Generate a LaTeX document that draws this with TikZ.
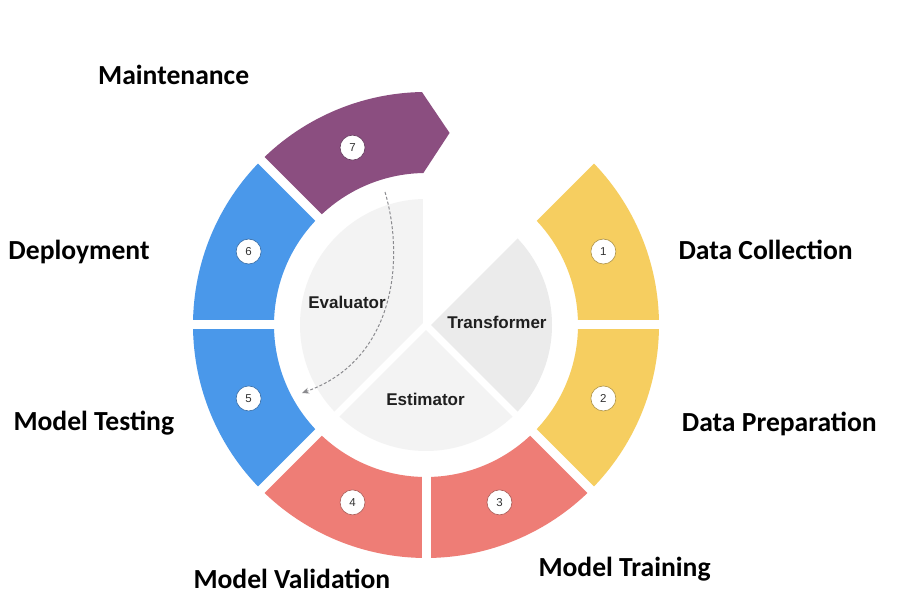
\documentclass[tikz,border=0pt]{standalone}
\usepackage{fontspec}
\setmainfont{Carlito}
\newfontfamily\helvfont{Liberation Sans}
\usetikzlibrary{arrows.meta}
\definecolor{segyellow}{HTML}{F6CE60}
\definecolor{segred}{HTML}{EE7D76}
\definecolor{segblue}{HTML}{4A98EA}
\definecolor{segpurple}{HTML}{8B4E80}
\definecolor{evalgray}{HTML}{F3F3F3}
\definecolor{transgray}{HTML}{EBEBEB}
\definecolor{arrowgray}{HTML}{8A8A8E}

\begin{document}
\begin{tikzpicture}[x=1pt,y=1pt,
  stagelabel/.style={font=\fontsize{27.6}{32}\selectfont\bfseries, anchor=base west, inner sep=0},
  partlabel/.style={font=\helvfont\fontsize{17}{20}\selectfont\bfseries, anchor=base, inner sep=0, text=black!88},
  numcircle/.style={circle, fill=white, line width=0.6pt, minimum size=25pt, inner sep=0, text=black!80, font=\helvfont\fontsize{11.5}{12}\selectfont},
  ringgap/.style={white, line width=9pt},
  piegap/.style={white, line width=7pt},
  loopback/.style={arrowgray, line width=1pt, dash pattern=on 3pt off 2pt, -{Stealth[length=7pt,width=6pt]}}]
\useasboundingbox (0,0) rectangle (908,612);
\fill[white] (0,0) rectangle (908,612);

\begin{scope}[shift={(426,287)}]
% ring segments
\fill[segyellow] (0:152) -- (0:233) arc[start angle=0,end angle=45,radius=233] -- (45:152) arc[start angle=45,end angle=0,radius=152] -- cycle;
\fill[segyellow] (-45:152) -- (-45:233) arc[start angle=-45,end angle=0,radius=233] -- (0:152) arc[start angle=0,end angle=-45,radius=152] -- cycle;
\fill[segred] (-90:152) -- (-90:233) arc[start angle=-90,end angle=-45,radius=233] -- (-45:152) arc[start angle=-45,end angle=-90,radius=152] -- cycle;
\fill[segred] (-135:152) -- (-135:233) arc[start angle=-135,end angle=-90,radius=233] -- (-90:152) arc[start angle=-90,end angle=-135,radius=152] -- cycle;
\fill[segblue] (180:152) -- (180:233) arc[start angle=180,end angle=225,radius=233] -- (225:152) arc[start angle=225,end angle=180,radius=152] -- cycle;
\fill[segblue] (135:152) -- (135:233) arc[start angle=135,end angle=180,radius=233] -- (180:152) arc[start angle=180,end angle=135,radius=152] -- cycle;
\fill[segpurple] (135:152) -- (135:233) arc[start angle=135,end angle=91,radius=233] -- (83:193.5) -- (91:152) arc[start angle=91,end angle=135,radius=152] -- cycle;

% gaps between segments
\draw[ringgap] (0:145) -- (0:240);
\draw[ringgap] (45:145) -- (45:240);
\draw[ringgap] (-45:145) -- (-45:240);
\draw[ringgap] (-90:145) -- (-90:240);
\draw[ringgap] (-135:145) -- (-135:240);
\draw[ringgap] (180:145) -- (180:240);
\draw[ringgap] (135:145) -- (135:240);

% step numbers
\node[numcircle, draw=segyellow!70!black] (step1) at (22.5:192) {1};
\node[numcircle, draw=segyellow!70!black] (step2) at (-22.5:192) {2};
\node[numcircle, draw=segred!70!black] (step3) at (-67.5:192) {3};
\node[numcircle, draw=segred!70!black] (step4) at (-112.5:192) {4};
\node[numcircle, draw=segblue!70!black] (step5) at (202.5:192) {5};
\node[numcircle, draw=segblue!70!black] (step6) at (157.5:192) {6};
\node[numcircle, draw=segpurple!70!black] (step7) at (112.5:192) {7};

% inner pie
\fill[evalgray] (0,0) -- (90:126) arc[start angle=90,end angle=225,radius=126] -- cycle;
\fill[transgray] (0,0) -- (-45:126) arc[start angle=-45,end angle=45,radius=126] -- cycle;
\fill[evalgray] (0,0) -- (225:126) arc[start angle=225,end angle=315,radius=126] -- cycle;
\draw[piegap] (0,0) -- (90:130);
\draw[piegap] (0,0) -- (45:130);
\draw[piegap] (0,0) -- (-45:130);
\draw[piegap] (0,0) -- (225:130);

% dashed loop back
\coordinate (evalstart) at (-41,133);
\coordinate (evalend) at (-124,-68);
\draw[loopback] (evalstart) .. controls (-21,65) and (-31,-35) .. (evalend);
\end{scope}

\node[partlabel] (evaluator) at (347,303.7) {Evaluator};
\node[partlabel] (transformer) at (497,283) {Transformer};
\node[partlabel] (estimator) at (425.5,206.3) {Estimator};

\node[stagelabel] (maintenance) at (98,527.7) {Maintenance};
\node[stagelabel] (deployment) at (8.3,352.7) {Deployment};
\node[stagelabel] (testing) at (13.3,181.3) {Model Testing};
\node[stagelabel] (validation) at (193.3,23.7) {Model Validation};
\node[stagelabel] (training) at (538.3,35.3) {Model Training};
\node[stagelabel] (preparation) at (681.7,180.3) {Data Preparation};
\node[stagelabel] (collection) at (678.3,352.7) {Data Collection};
\end{tikzpicture}
\end{document}
